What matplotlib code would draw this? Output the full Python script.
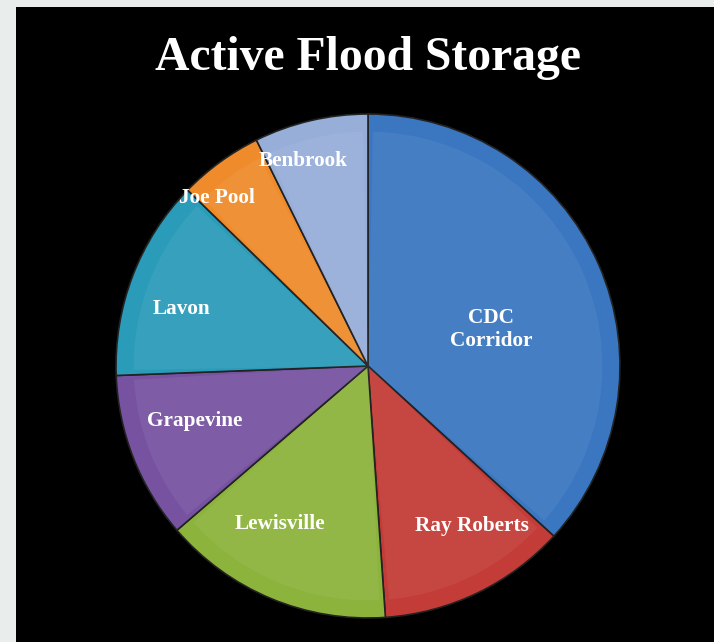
import numpy as np
import matplotlib
matplotlib.use("Agg")
import matplotlib.pyplot as plt
from matplotlib.patches import Wedge

# Active flood storage share per reservoir (percent)
names = ["CDC\nCorridor", "Ray Roberts", "Lewisville", "Grapevine", "Lavon", "Joe Pool", "Benbrook"]
shares = [36.8, 12.1, 14.8, 10.7, 12.9, 5.4, 7.3]
colors = ["#3b76c1", "#c33c37", "#8cb33b", "#7652a1", "#2a9bb9", "#ef8b2b", "#97aed9"]

# label spots as (radius fraction, angle in degrees), since they are not centred
label_pos = [(0.51, 16.5), (0.757, -57), (0.718, -119), (0.72, -162.4),
             (0.776, 163), (0.897, 132), (0.853, 107.6)]

W, H = 714, 642
fig = plt.figure(figsize=(W / 100, H / 100), dpi=100)
fig.patch.set_facecolor("#e9edeb")

# black slide panel
bg = fig.add_axes([16 / W, 0, (W - 16) / W, (H - 7) / H])
bg.set_facecolor("black")
bg.set_xticks([])
bg.set_yticks([])
for s in bg.spines.values():
    s.set_visible(False)

fig.text(368 / W, 1 - 58 / H, "Active Flood Storage", ha="center", va="center",
         color="white", fontsize=34.3, fontweight="bold", family="Liberation Serif")

cx, cy, r = 368, 366, 252
ax = fig.add_axes([(cx - r) / W, (H - cy - r) / H, 2 * r / W, 2 * r / H])
ax.set_facecolor("none")
wedges, _ = ax.pie(shares, colors=colors, startangle=90, counterclock=False,
                   wedgeprops=dict(edgecolor="#222222", linewidth=1.2))

# soft bevel: lighter inner copy of each wedge
for w in wedges:
    ax.add_patch(Wedge((0, 0), 0.93, w.theta1 + 1.2, w.theta2 - 1.2,
                       facecolor="white", alpha=0.06, linewidth=0))

for name, (rr, ang) in zip(names, label_pos):
    a = np.deg2rad(ang)
    ax.text(rr * np.cos(a), rr * np.sin(a), name, ha="center", va="center",
            color="white", fontsize=15.3, fontweight="bold", family="Liberation Serif",
            linespacing=1.15)

ax.set_xlim(-1, 1)
ax.set_ylim(-1, 1)
ax.set_aspect("equal")
ax.axis("off")

fig.savefig("out.png", dpi=100, facecolor=fig.get_facecolor())
